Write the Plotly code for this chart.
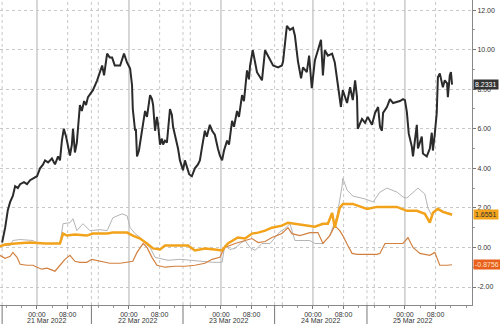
import plotly.graph_objects as go

# time axis: hours since 21 Mar 2022 00:00
blk_t = [-9.1,-8.6,-8.3,-7.6,-7.0,-6.3,-5.7,-5.0,-4.4,-3.4,-2.6,-1.8,-1.0,0,0.8,1.6,2.1,2.9,3.9,4.7,5.5,6.0,6.5,7.0,7.6,7.8,8.6,9.1,9.4,9.9,10.4,11.2,11.7,12.3,12.8,13.3,14.6,15.7,16.4,17.0,17.5,17.7,18.3,19.0,19.6,20.3,21.7,22.7,23.5,24.3,24.8,25.0,25.3,25.6,25.8,26.1,26.6,27.1,27.7,28.2,28.7,29.2,29.5,30.0,30.3,30.8,31.3,31.6,32.1,32.6,32.9,33.4,33.9,34.7,35.2,35.5,36.0,36.8,37.3,38.1,38.6,39.1,39.7,40.4,41.2,42.0,42.5,43.0,43.8,44.3,45.1,45.7,46.4,47.2,47.7,48.3,48.8,49.6,50.1,50.9,51.4,52.2,52.7,53.5,54.0,54.8,55.3,55.6,56.3,57.4,58.7,59.5,60.3,61.6,62.9,63.9,64.2,65.2,66.0,66.8,67.3,68.1,68.9,69.4,70.4,71.0,71.7,72.5,73.3,74.1,74.6,75.1,75.9,77.0,77.7,78.3,79.3,79.8,80.9,81.7,82.4,83.0,83.5,83.7,84.8,85.6,86.3,87.4,88.2,89.0,89.5,90.0,90.3,91.3,92.1,92.9,93.9,94.7,95.5,96.0,96.5,97.0,97.8,98.1,99.1,99.4,100.4,100.7,101.7,102.5,103.0,103.3,103.8,104.3,104.6,105.1,105.9,106.4,107.0,107.2,107.7,108.0,108.3]
blk_v = [0.25,0.7,1.0,1.9,2.3,2.6,3.1,3.0,3.2,3.3,3.2,3.4,3.5,3.6,4.0,4.2,4.4,4.3,4.5,4.2,4.6,4.4,5.4,6.0,5.6,5.4,4.65,5.2,6.0,4.8,5.3,7.2,6.9,7.4,7.2,7.6,7.95,8.45,8.8,9.2,8.7,8.95,9.8,9.6,9.6,9.2,9.2,9.8,9.35,9.05,8.2,7.0,6.2,5.9,6.0,4.6,4.9,5.5,6.2,6.9,6.6,7.3,7.7,7.5,7.2,5.9,6.6,6.2,5.2,5.5,5.2,5.4,5.3,7.0,6.7,6.1,5.7,5.0,4.4,3.9,4.4,4.1,3.7,3.6,4.0,4.2,4.4,5.0,5.9,5.6,6.2,5.9,5.7,5.0,4.65,4.4,4.9,5.4,5.2,6.4,6.1,6.9,6.6,7.7,7.4,8.95,8.5,9.2,9.97,8.86,8.45,9.97,9.7,9.2,9.1,9.2,9.4,11.2,11.0,11.1,10.7,9.4,8.55,9.1,8.86,9.7,8.05,9.45,9.97,10.5,8.7,9.97,9.7,9.8,9.35,8.45,7.1,7.95,7.3,8.1,7.45,8.45,7.6,6.0,6.5,6.3,6.6,6.2,6.8,7.1,6.1,5.9,6.8,7.1,7.5,7.3,7.35,7.4,7.5,7.45,6.85,5.75,5.1,4.6,6.2,5.0,5.6,4.75,4.6,5.0,5.8,4.9,5.75,6.8,8.6,8.8,8.1,8.45,8.3,7.6,8.7,8.86,8.2331]

gry_t = [-9.7,-7.0,-6.3,-4.4,-1.0,0,2.1,6.0,6.8,8.6,9.4,10.4,12.0,13.8,16.4,18.3,19.8,20.9,22.2,23.5,24.3,25.6,26.9,28.2,29.5,30.8,32.1,34.2,37.3,39.9,42.5,45.7,48.3,49.0,50.3,51.7,53.0,54.3,55.6,56.9,58.7,60.8,63.4,64.7,66.0,67.3,69.9,71.2,72.5,74.6,76.4,78.3,79.6,79.8,80.9,82.4,85.6,87.7,89.5,91.3,93.9,95.5,96.5,98.1,99.4,101.2,102.0,103.0,104.1,105.1,106.4,108.3]
gry_v = [0.1,0.1,0.35,0.4,0.35,0.2,0.2,0.2,1.2,1.25,1.45,0.85,1.2,0.85,0.9,0.85,1.5,1.6,1.7,1.6,1.0,0.7,0.5,0.2,0.0,-0.5,-0.55,-0.65,-0.6,-0.65,-0.7,-0.75,-0.75,0.1,-0.1,-0.05,0.2,0.35,0.0,-0.15,0.2,0.2,0.8,0.95,1.2,0.35,0.35,0.35,0.2,0.2,0.6,1.6,3.1,3.5,2.9,2.6,2.45,2.3,2.8,3.0,2.8,2.55,2.5,2.8,3.0,2.7,2.0,1.6,1.9,1.9,1.8,1.7]

org_t = [-9.7,-8.3,-5.7,-1.8,2.1,6.0,6.8,7.8,9.9,13.0,14.6,18.3,19.8,23.5,25.0,26.9,28.7,30.3,32.1,33.4,36.0,39.4,41.2,43.8,46.4,48.3,49.8,51.7,52.4,54.3,56.1,57.7,59.5,61.3,63.9,65.5,67.3,69.9,72.5,74.6,75.9,77.0,77.7,79.0,79.8,82.4,86.1,88.7,93.9,96.5,99.1,101.2,102.5,103.3,104.6,105.9,108.3]
org_v = [0.05,0.15,0.2,0.25,0.2,0.2,0.7,0.6,0.65,0.6,0.7,0.7,0.75,0.75,0.6,0.45,0.2,-0.05,-0.1,0.1,0.1,0.1,-0.15,-0.05,-0.1,-0.15,0.2,0.4,0.5,0.45,0.7,0.75,0.85,1.0,1.1,1.25,1.2,1.1,1.05,1.2,1.2,1.75,1.0,2.0,2.2,2.2,1.95,2.05,2.05,1.85,1.85,1.7,1.25,1.75,1.95,1.8,1.6551]

brn_t = [-9.7,-8.3,-7.0,-6.3,-5.2,-4.4,-2.6,-1.0,0,1.3,2.6,4.7,6.0,7.3,8.6,9.9,11.2,13.0,14.3,16.4,19.0,21.7,23.5,25.0,26.1,27.7,28.7,30.0,31.3,33.4,36.0,38.6,41.2,43.8,45.7,47.7,49.0,51.7,54.3,56.1,57.7,59.5,61.3,63.9,65.5,66.5,68.6,71.2,73.3,74.6,76.4,77.7,79.0,79.8,81.1,82.2,83.5,86.1,88.7,89.5,90.8,92.9,95.5,96.8,98.1,99.9,102.5,103.8,105.1,107.0,108.3]
brn_v = [-0.4,-0.55,-0.45,-0.25,-0.5,-0.85,-0.9,-0.9,-1.0,-1.1,-1.05,-1.2,-0.9,-0.6,-0.4,-0.7,-0.75,-0.75,-0.6,-0.7,-0.8,-0.8,-0.75,-0.7,-0.25,0.2,0.0,-0.5,-0.9,-1.0,-0.95,-0.95,-0.9,-0.8,-0.6,-0.5,0.0,0.2,0.35,0.45,0.25,0.3,0.5,0.7,1.0,0.7,0.6,0.75,0.75,0.2,0.6,1.1,0.85,0.6,0.1,-0.3,-0.35,-0.35,-0.35,-0.3,0.2,0.2,0.2,0.5,0.0,-0.3,-0.4,-0.25,-0.9,-0.9,-0.8756]

y_ticks = [-2, 0, 2, 4, 6, 8, 10, 12]
x_ticks = [0, 8, 24, 32, 48, 56, 72, 80, 96, 104]
x_ticktext = ["00:00", "08:00"] * 5
midnights = [0, 24, 48, 72, 96]
other_grid = [-9.1, 8, 14.2, 16, 32, 38.1, 40, 56, 62.0, 64, 80, 86.1, 88, 104]
separators = [-9.1, 14.2, 38.1, 62.0, 86.1]
date_labels = ["21 Mar 2022", "22 Mar 2022", "23 Mar 2022", "24 Mar 2022", "25 Mar 2022"]
date_pos = [2.55, 26.15, 50.05, 74.05, 98.0]

FONT = "Liberation Sans"
fig = go.Figure()
fig.add_trace(go.Scatter(x=gry_t, y=gry_v, mode="lines", line=dict(color="#b4b4b4", width=1)))
fig.add_trace(go.Scatter(x=brn_t, y=brn_v, mode="lines", line=dict(color="#d2803f", width=1.2)))
fig.add_trace(go.Scatter(x=org_t, y=org_v, mode="lines", line=dict(color="#f2a31b", width=2.5)))
fig.add_trace(go.Scatter(x=blk_t, y=blk_v, mode="lines", line=dict(color="#2b2b2b", width=2)))

shapes = []
for m in midnights:
    shapes.append(dict(type="line", xref="x", yref="paper", x0=m, x1=m, y0=0, y1=1,
                       line=dict(color="#b0b0b0", width=1), layer="below"))
for g in other_grid:
    shapes.append(dict(type="line", xref="x", yref="paper", x0=g, x1=g, y0=0, y1=1,
                       line=dict(color="#c8c8c8", width=1, dash="dot"), layer="below"))
for s in separators:
    shapes.append(dict(type="line", xref="x", yref="paper", x0=s, x1=s, y0=0, y1=-0.065,
                       line=dict(color="#777", width=1)))

ann = []
for d, p in zip(date_labels, date_pos):
    ann.append(dict(x=p, y=0, xref="x", yref="paper", text=d, showarrow=False,
                    yanchor="middle", yshift=-15, font=dict(family=FONT, size=7, color="#333")))
last = [(blk_v[-1], "#333333", "white"), (org_v[-1], "#f2a31b", "#333"), (brn_v[-1], "#e8601c", "#fde3c8")]
for v, bg, fc in last:
    ann.append(dict(x=1, y=v, xref="paper", yref="y", text=f"{v:.4f}", showarrow=False,
                    xanchor="left", xshift=1, bgcolor=bg, borderpad=1,
                    font=dict(family=FONT, size=7, color=fc)))

fig.update_layout(
    width=500, height=324, margin=dict(l=0, r=28, t=0, b=19),
    plot_bgcolor="white", paper_bgcolor="white", showlegend=False,
    font=dict(family=FONT, size=7, color="#333"),
    shapes=shapes, annotations=ann,
    xaxis=dict(range=[-9.65, 113.5], tickvals=x_ticks, ticktext=x_ticktext, ticks="outside",
               ticklen=3, tickcolor="#777", showgrid=False, zeroline=False, showline=True,
               linecolor="#888", linewidth=1,
               minor=dict(dtick=4, tick0=0, ticks="outside", ticklen=2, tickcolor="#999", showgrid=False)),
    yaxis=dict(side="right", range=[-2.91, 12.51], tickvals=y_ticks,
               ticktext=[f"{v:.2f}" for v in y_ticks], ticks="outside", ticklen=3, tickcolor="#777",
               showgrid=True, gridcolor="#c8c8c8", griddash="dot", zeroline=False,
               showline=True, linecolor="#888", linewidth=1,
               minor=dict(dtick=1, ticks="outside", ticklen=2, tickcolor="#999", showgrid=False)),
)
fig.write_html("out.html")
